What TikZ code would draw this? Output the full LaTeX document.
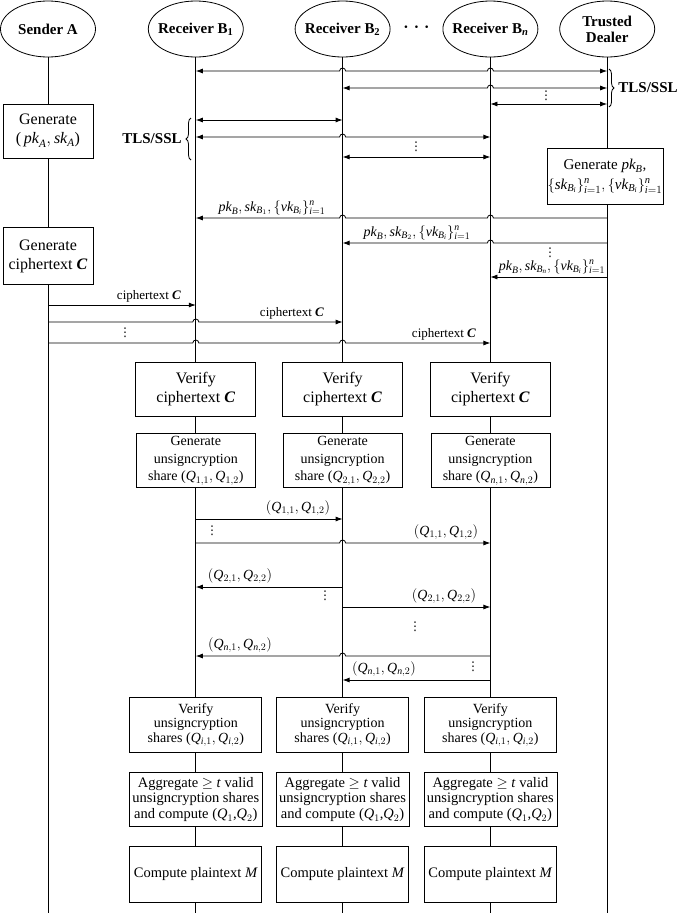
\documentclass[tikz,border=0pt]{standalone}
\usepackage{amsmath}
\usepackage{fontspec}
\setmainfont{Liberation Serif}
\newfontfamily\symfont{DejaVu Sans}
\usepackage{tikz}
\usetikzlibrary{arrows.meta,shapes.geometric,positioning,calc,decorations.pathreplacing}
\newcommand{\itx}[1]{\textit{#1}}
\newcommand{\keymsg}[1]{$\itx{pk}_{\itx{B}}, \itx{sk}_{\itx{B}_{#1}}, \{\itx{vk}_{\itx{B}_{\itx{i}}}\}_{\itx{i}=1}^{\itx{n}}$}
\newcommand{\hopR}[2]{-- ($(#1 |- 0,#2)+(-3,0)$) arc[start angle=180,end angle=360,radius=3]}
\newcommand{\hopL}[2]{-- ($(#1 |- 0,#2)+(3,0)$) arc[start angle=0,end angle=-180,radius=3]}
\tikzstyle{actor} = [ellipse, draw, line width=0.8pt, minimum width=95pt, minimum height=56pt, inner xsep=-6pt, inner ysep=0pt, align=center, font=\fontsize{15}{16}\selectfont\bfseries]
\tikzstyle{procbox} = [rectangle, draw, line width=0.8pt, fill=white, align=center, inner sep=0pt]
\tikzstyle{life} = [line width=0.8pt]
\tikzstyle{msg} = [line width=0.8pt, -{Latex[length=7pt,width=5pt]}]
\tikzstyle{dmsg} = [line width=0.8pt, {Latex[length=7pt,width=5pt]}-{Latex[length=7pt,width=5pt]}]
\tikzstyle{msglabel} = [anchor=south, inner sep=1pt, font=\fontsize{14}{15}\selectfont]
\tikzstyle{vdotsnode} = [inner sep=0pt, font=\symfont\fontsize{12}{12}\selectfont]
\tikzstyle{tlsbrace} = [decorate, decoration={brace, amplitude=5pt}, line width=0.8pt]
\tikzstyle{tlslabel} = [inner sep=0pt, font=\fontsize{15}{16}\selectfont\bfseries]

\begin{document}
\begin{tikzpicture}[x=1pt, y=-1pt]
\useasboundingbox (0,0) rectangle (685,919);

% participants
\node[actor] (snd) at (48,29) {Sender A};
\node[actor, right=52pt of snd] (b1) {Receiver B\textsubscript{1}};
\node[actor, right=51pt of b1] (b2) {Receiver B\textsubscript{2}};
\node[actor, right=52pt of b2] (bn) {Receiver B\textsubscript{\itx{n}}};
\node[actor, right=21pt of bn] (dl) {Trusted\\Dealer};
\node[font=\fontsize{16}{16}\selectfont\bfseries] (hdots) at ($(b2)!0.5!(bn)$) {·\hspace{5pt}·\hspace{5pt}·};

% lifelines
\coordinate (bot) at (0,913);
\foreach \n in {snd,b1,b2,bn,dl}
  \draw[life] (\n) -- (\n |- bot);

% key generation
\node[procbox, minimum width=90pt, minimum height=54pt, font=\fontsize{16}{19}\selectfont] (genA) at (48,131)
  {Generate\\(\,$\itx{pk}_{\itx{A}}, \itx{sk}_{\itx{A}}$)};
\node[procbox, minimum width=116pt, minimum height=56pt, font=\fontsize{15}{20}\selectfont] (genB) at (605,176)
  {Generate $\itx{pk}_{\itx{B}}$,\\$\{\itx{sk}_{\itx{B}_{\itx{i}}}\}_{\itx{i}=1}^{\itx{n}}, \{\itx{vk}_{\itx{B}_{\itx{i}}}\}_{\itx{i}=1}^{\itx{n}}$};
\node[procbox, minimum width=90pt, minimum height=57pt, font=\fontsize{16}{19}\selectfont] (genC) at (48,256)
  {Generate\\ciphertext \textbf{\itx{C}}};

% TLS/SSL channels with the dealer
\draw[dmsg] (b1 |- 0,71) \hopR{b2}{71} \hopR{bn}{71} -- (dl |- 0,71);
\draw[dmsg] (b2 |- 0,88) \hopR{bn}{88} -- (dl |- 0,88);
\draw[dmsg] (bn |- 0,104) -- (dl |- 0,104);
\node[vdotsnode] (d1) at (546,96) {⋮};
\draw[tlsbrace] (609,69) -- (609,107) node[midway, right=9pt, tlslabel] (tlsR) {TLS/SSL};

% TLS/SSL channels between receivers
\draw[dmsg] (b1 |- 0,120) -- (b2 |- 0,120);
\draw[dmsg] (b1 |- 0,137) \hopR{b2}{137} -- (bn |- 0,137);
\draw[dmsg] (b2 |- 0,157) -- (bn |- 0,157);
\node[vdotsnode] (d2) at (416,147) {⋮};
\draw[tlsbrace] (191,160) -- (191,118) node[midway, left=9pt, tlslabel] (tlsL) {TLS/SSL};

% key distribution
\draw[msg] (dl |- 0,218) \hopL{bn}{218} \hopL{b2}{218} -- (b1 |- 0,218);
\node[msglabel] (k1) at (272,216) {\keymsg{1}};
\draw[msg] (dl |- 0,243) \hopL{bn}{243} -- (b2 |- 0,243);
\node[msglabel] (k2) at (417,241) {\keymsg{2}};
\node[vdotsnode] (d3) at (550,253) {⋮};
\draw[msg] (dl |- 0,277) -- (bn |- 0,277);
\node[msglabel] (k3) at (552,275) {\keymsg{\itx{n}}};

% ciphertext broadcast
\draw[msg] (snd |- 0,305) -- (b1 |- 0,305);
\node[msglabel, font=\fontsize{13}{14}\selectfont] (c1) at (149,303) {ciphertext \textbf{\itx{C}}};
\draw[msg] (snd |- 0,322) \hopR{b1}{322} -- (b2 |- 0,322);
\node[msglabel, font=\fontsize{13}{14}\selectfont] (c2) at (292,320) {ciphertext \textbf{\itx{C}}};
\node[vdotsnode] (d4) at (125,333) {⋮};
\draw[msg] (snd |- 0,343) \hopR{b1}{343} \hopR{b2}{343} -- (bn |- 0,343);
\node[msglabel, font=\fontsize{13}{14}\selectfont] (c3) at (444,341) {ciphertext \textbf{\itx{C}}};

% receiver steps
\foreach \col/\k/\idx in {b1/1/1, b2/2/2, bn/3/{\itx{n}}} {
  \node[procbox, minimum width=120pt, minimum height=54pt, font=\fontsize{16}{19}\selectfont] (vc\k) at (\col |- 0,389)
    {Verify\\ciphertext \textbf{\itx{C}}};
  \node[procbox, minimum width=119pt, minimum height=54pt, font=\fontsize{14}{17.5}\selectfont, below=17pt of vc\k] (gq\k)
    {Generate\\unsigncryption\\share ($\itx{Q}_{\idx,1}, \itx{Q}_{\idx,2}$)};
  \node[procbox, minimum width=132pt, minimum height=55pt, font=\fontsize{14}{14.5}\selectfont] (vq\k) at (\col |- 0,725)
    {Verify\\unsigncryption\\shares ($\itx{Q}_{\itx{i},1}, \itx{Q}_{\itx{i},2}$)};
  \node[procbox, minimum width=133pt, minimum height=54pt, font=\fontsize{14.5}{15.5}\selectfont, below=19pt of vq\k] (ag\k)
    {Aggregate $\geq$ \itx{t} valid\\unsigncryption shares\\and compute ($\itx{Q}_1$,$\itx{Q}_2$)};
  \node[procbox, minimum width=132pt, minimum height=56pt, font=\fontsize{14.5}{15.5}\selectfont, below=19pt of ag\k] (pt\k)
    {Compute plaintext \itx{M}};
}

% share exchange
\draw[msg] (b1 |- 0,519) -- (b2 |- 0,519);
\node[msglabel] (q1) at (298,517) {$(\itx{Q}_{1,1}, \itx{Q}_{1,2})$};
\node[vdotsnode] (d5) at (212,531) {⋮};
\draw[msg] (b1 |- 0,543) \hopR{b2}{543} -- (bn |- 0,543);
\node[msglabel] (q2) at (446,541) {$(\itx{Q}_{1,1}, \itx{Q}_{1,2})$};
\draw[msg] (b2 |- 0,587) -- (b1 |- 0,587);
\node[msglabel] (q3) at (240,585) {$(\itx{Q}_{2,1}, \itx{Q}_{2,2})$};
\node[vdotsnode] (d6) at (325,596) {⋮};
\draw[msg] (b2 |- 0,607) -- (bn |- 0,607);
\node[msglabel] (q4) at (444,605) {$(\itx{Q}_{2,1}, \itx{Q}_{2,2})$};
\node[vdotsnode] (d7) at (415,627) {⋮};
\draw[msg] (bn |- 0,656) \hopL{b2}{656} -- (b1 |- 0,656);
\node[msglabel] (q5) at (240,654) {$(\itx{Q}_{\itx{n},1}, \itx{Q}_{\itx{n},2})$};
\node[vdotsnode] (d8) at (473,667) {⋮};
\draw[msg] (bn |- 0,680) -- (b2 |- 0,680);
\node[msglabel] (q6) at (384,678) {$(\itx{Q}_{\itx{n},1}, \itx{Q}_{\itx{n},2})$};
\end{tikzpicture}
\end{document}
